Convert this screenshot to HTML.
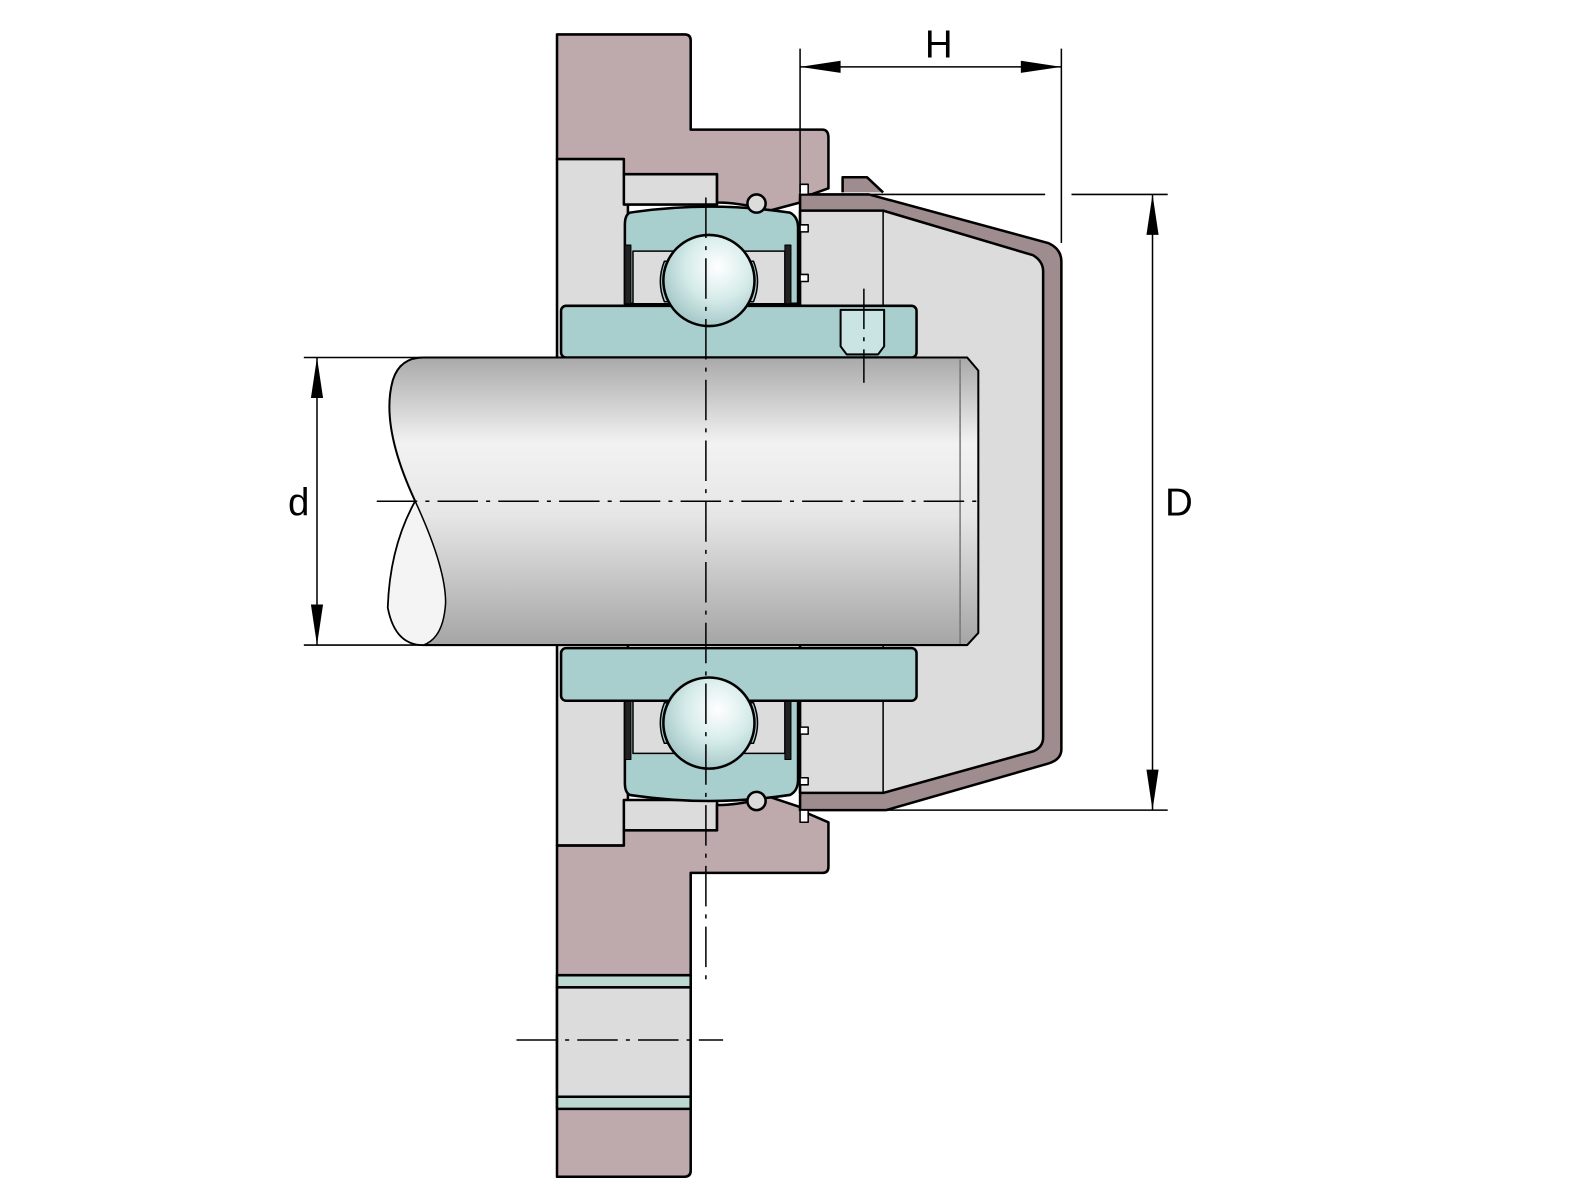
<!DOCTYPE html>
<html><head><meta charset="utf-8"><style>html,body{margin:0;padding:0;background:#fff}svg{display:block}</style></head>
<body>
<svg width="1588" height="1200" viewBox="0 0 1568 1185" preserveAspectRatio="none" xmlns="http://www.w3.org/2000/svg" font-family="Liberation Sans, DejaVu Sans, sans-serif">
<defs>
<linearGradient id="sh" x1="0" y1="0" x2="0" y2="1">
<stop offset="0" stop-color="#a9a9a9"/><stop offset="0.3" stop-color="#f2f2f2"/><stop offset="0.55" stop-color="#e6e6e6"/><stop offset="1" stop-color="#a5a5a5"/></linearGradient>
<radialGradient id="ball" cx="0.6" cy="0.35" r="0.7"><stop offset="0" stop-color="#ffffff"/><stop offset="0.5" stop-color="#d6ecea"/><stop offset="1" stop-color="#9fc4c4"/></radialGradient>
</defs>
<g stroke="#000" stroke-width="2.5" stroke-linejoin="round">
<rect x="550" y="157" width="70" height="678" fill="#dcdcdc"/>
<rect x="616" y="172" width="92" height="30" fill="#dcdcdc"/>
<rect x="616" y="790" width="92" height="30" fill="#dcdcdc"/>
<path d="M550 34 H676 Q682 34 682 40 V128 H812 Q818 128 818 136 V186 L790 196 V200 L760 208 Q730 200 708 200 V172 H616 V157 H550 Z" fill="#bea9ad"/>
<path d="M550 835 H616 V820 H708 V795 Q730 795 760 787 L790 797 V800 L818 812 V856 Q818 862 812 862 H682 V1156 Q682 1162 676 1162 H550 Z" fill="#bea9ad"/>
<rect x="550" y="963" width="132" height="12" fill="#bcd8d0"/>
<rect x="550" y="975" width="132" height="108" fill="#dcdcdc"/>
<rect x="550" y="1083" width="132" height="12" fill="#bcd8d0"/>
<path d="M790 192 H858 L1035 240 Q1048 246 1048 258 V740 Q1048 750 1035 754 L875 800 H790 Z" fill="#9e8c8f"/>
<path d="M790 208 H872 L1020 252 Q1030 258 1030 268 V728 Q1030 738 1020 742 L872 783 H790 Z" fill="#dcdcdc"/>
<line x1="872" y1="208" x2="872" y2="783" stroke-width="1.5"/>
<path d="M832 190 V175 H856 L872 190" fill="#9e8c8f"/>
<rect x="790" y="182" width="8" height="10" fill="#fff" stroke-width="1.5"/>
<rect x="790" y="222" width="8" height="7" fill="#fff" stroke-width="1.5"/>
<rect x="790" y="271" width="8" height="7" fill="#fff" stroke-width="1.5"/>
<rect x="790" y="718" width="8" height="7" fill="#fff" stroke-width="1.5"/>
<rect x="790" y="768" width="8" height="7" fill="#fff" stroke-width="1.5"/>
<rect x="790" y="800" width="8" height="12" fill="#fff" stroke-width="1.5"/>
<path d="M622 210 Q700 198 780 210 Q788 214 788 225 V300 H617 V222 Q617 212 622 210 Z" fill="#a8cece"/>
<path d="M622 785 Q700 797 780 785 Q788 781 788 770 V692 H617 V773 Q617 783 622 785 Z" fill="#a8cece"/>
<rect x="625" y="248" width="150" height="52" fill="#dcdcdc" stroke-width="1.5"/>
<rect x="625" y="692" width="150" height="52" fill="#dcdcdc" stroke-width="1.5"/>
<circle cx="747" cy="201" r="9" fill="#dcdcdc"/>
<circle cx="747" cy="791" r="9" fill="#dcdcdc"/>
<g fill="#222" stroke-width="1">
<rect x="617" y="242" width="6" height="58"/><rect x="775" y="242" width="6" height="58"/>
<rect x="617" y="692" width="6" height="58"/><rect x="775" y="692" width="6" height="58"/>
</g>
<rect x="554" y="302" width="351" height="51" rx="5" fill="#a8cece"/>
<rect x="554" y="640" width="351" height="52" rx="5" fill="#a8cece"/>
<path d="M830 306 H873 V342 L867 350 H836 L830 342 Z" fill="#c9e4e2" stroke-width="2"/>
<path d="M656 258 H668 V298 H656 Q648 278 656 258 Z" fill="#a8cece" stroke-width="1.5"/>
<path d="M744 258 H732 V298 H744 Q752 278 744 258 Z" fill="#a8cece" stroke-width="1.5"/>
<path d="M656 694 H668 V734 H656 Q648 714 656 694 Z" fill="#a8cece" stroke-width="1.5"/>
<path d="M744 694 H732 V734 H744 Q752 714 744 694 Z" fill="#a8cece" stroke-width="1.5"/>
<circle cx="700" cy="277" r="45" fill="url(#ball)"/>
<circle cx="700" cy="714" r="45" fill="url(#ball)"/>
<path d="M418 353 H955 L966 366 V625 L955 637 H418 Q390 637 383 600 Q385 540 410 495 Q375 420 388 375 Q395 353 418 353 Z" fill="url(#sh)" stroke-width="2"/>
<path d="M410 495 Q440 560 440 595 Q438 630 418 637 Q390 637 383 600 Q385 540 410 495 Z" fill="#f4f4f4" stroke-width="1.5"/>
<line x1="948" y1="355" x2="948" y2="636" stroke="#777" stroke-width="1.5"/>
</g>
<g stroke="#000" stroke-width="1.5" fill="none" stroke-dasharray="40,8,4,8">
<line x1="372" y1="495" x2="972" y2="495"/>
<line x1="697" y1="195" x2="697" y2="972"/>
<line x1="510" y1="1027" x2="714" y2="1027"/>
<line x1="853" y1="285" x2="853" y2="378"/>
</g>
<g stroke="#000" stroke-width="1.5" fill="none">
<line x1="790" y1="48" x2="790" y2="190"/>
<line x1="1048" y1="48" x2="1048" y2="240"/>
<line x1="790" y1="66" x2="1048" y2="66"/>
<line x1="858" y1="192" x2="1032" y2="192"/>
<line x1="1058" y1="192" x2="1153" y2="192"/>
<line x1="875" y1="800" x2="1153" y2="800"/>
<line x1="1138" y1="192" x2="1138" y2="800"/>
<line x1="300" y1="353" x2="418" y2="353"/>
<line x1="300" y1="637" x2="418" y2="637"/>
<line x1="313" y1="353" x2="313" y2="637"/>
</g>
<g fill="#000">
<path d="M790 66 L830 60 V72 Z"/><path d="M1048 66 L1008 60 V72 Z"/>
<path d="M1138 192 L1132 232 H1144 Z"/><path d="M1138 800 L1132 760 H1144 Z"/>
<path d="M313 353 L307 393 H319 Z"/><path d="M313 637 L307 597 H319 Z"/>
</g>
<g font-size="38" fill="#000" text-anchor="middle">
<text x="927" y="57">H</text>
<text x="1164" y="509">D</text>
<text x="295" y="509">d</text>
</g>
</svg>
</body></html>
